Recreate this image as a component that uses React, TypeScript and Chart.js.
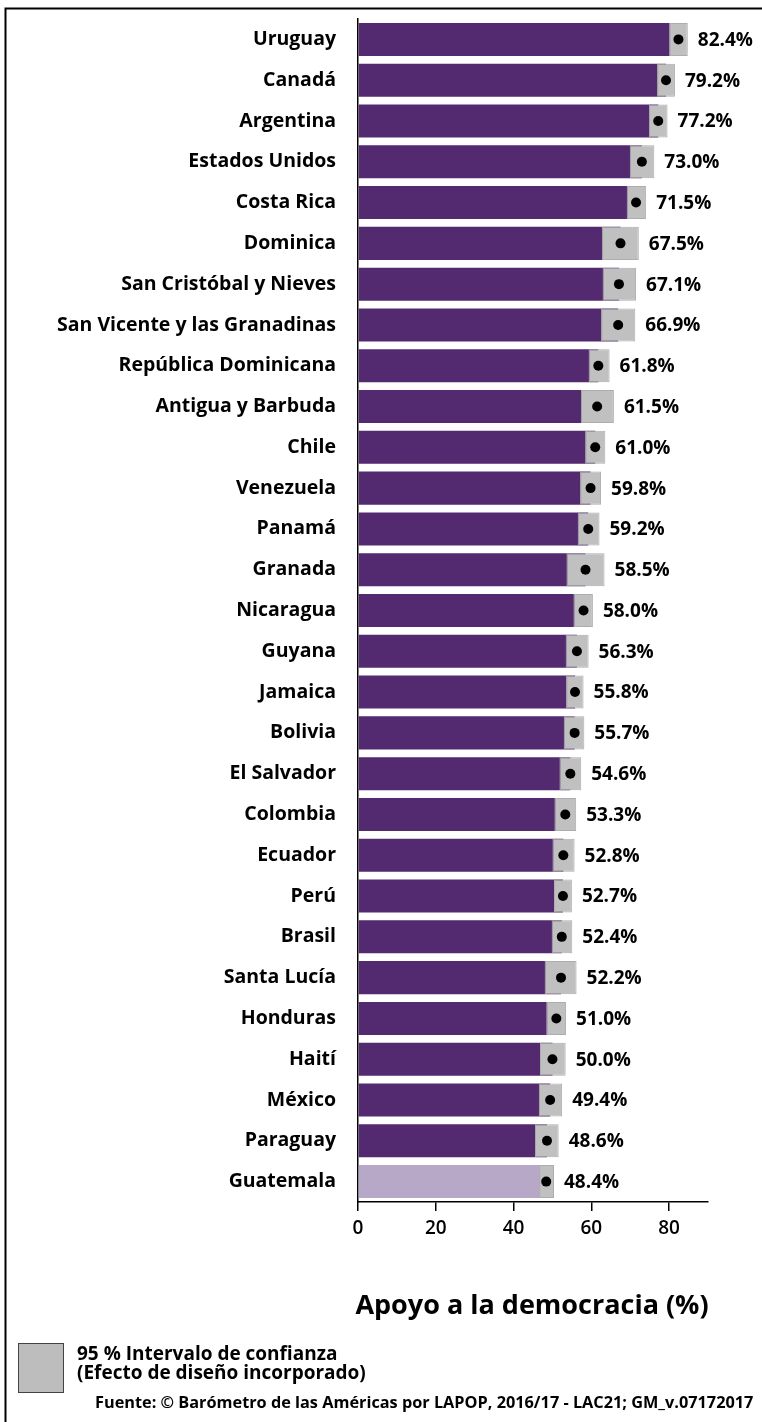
import React, { useEffect, useRef } from 'react';
import { Chart, registerables } from 'chart.js';

Chart.register(...registerables);

const countries = [
  'Uruguay', 'Canadá', 'Argentina', 'Estados Unidos', 'Costa Rica', 'Dominica',
  'San Cristóbal y Nieves', 'San Vicente y las Granadinas', 'República Dominicana',
  'Antigua y Barbuda', 'Chile', 'Venezuela', 'Panamá', 'Granada', 'Nicaragua',
  'Guyana', 'Jamaica', 'Bolivia', 'El Salvador', 'Colombia', 'Ecuador', 'Perú',
  'Brasil', 'Santa Lucía', 'Honduras', 'Haití', 'México', 'Paraguay', 'Guatemala',
];
const means = [
  82.4, 79.2, 77.2, 73.0, 71.5, 67.5, 67.1, 66.9, 61.8, 61.5, 61.0, 59.8, 59.2, 58.5, 58.0,
  56.3, 55.8, 55.7, 54.6, 53.3, 52.8, 52.7, 52.4, 52.2, 51.0, 50.0, 49.4, 48.6, 48.4,
];
const ciLow = [
  80.0, 76.9, 74.8, 69.9, 69.1, 62.7, 62.9, 62.5, 59.3, 57.3, 58.4, 57.1, 56.5, 53.6, 55.4,
  53.4, 53.5, 52.9, 51.8, 50.5, 50.0, 50.4, 49.8, 48.0, 48.4, 46.8, 46.5, 45.5, 46.6,
];
const ciHigh = [
  84.8, 81.5, 79.6, 76.2, 74.1, 72.2, 71.5, 71.3, 64.7, 65.8, 63.6, 62.5, 62.1, 63.4, 60.4,
  59.3, 58.0, 58.2, 57.4, 56.1, 55.7, 55.0, 55.1, 56.2, 53.5, 53.4, 52.5, 51.6, 50.4,
];
const highlighted = ['Guatemala'];
const xTicks = [0, 20, 40, 60, 80];
const xTitle = 'Apoyo a la democracia (%)';
const legendLines = ['95 % Intervalo de confianza', '(Efecto de diseño incorporado)'];
const sourceText = 'Fuente: © Barómetro de las Américas por LAPOP, 2016/17 - LAC21; GM_v.07172017';

const W = 762;
const H = 1422;
const FONT = '"Open Sans", "Noto Sans", "DejaVu Sans", sans-serif';
const PURPLE = '#532a6f';
const LIGHT_PURPLE = '#b8a8c7';
const GREY = '#c0c0c0';

export default function App() {
  const ref = useRef<HTMLCanvasElement>(null);

  useEffect(() => {
    document.body.style.margin = '0';
    const canvas = ref.current!;
    const barColors = countries.map((c) => (highlighted.includes(c) ? LIGHT_PURPLE : PURPLE));

    const decor = {
      id: 'decor',
      beforeDraw(chart: any) {
        const ctx = chart.ctx;
        ctx.save();
        ctx.fillStyle = '#fff';
        ctx.fillRect(0, 0, W, H);
        ctx.restore();
      },
      afterDatasetsDraw(chart: any) {
        const ctx = chart.ctx;
        const xs = chart.scales.x;
        const ys = chart.scales.y;
        ctx.save();
        ctx.fillStyle = '#000';
        ctx.font = `bold 19px ${FONT}`;
        ctx.textAlign = 'left';
        ctx.textBaseline = 'middle';
        means.forEach((m, i) => {
          const x = xs.getPixelForValue(ciHigh[i]) + 10;
          const y = ys.getPixelForValue(i);
          ctx.fillText(m.toFixed(1) + '%', x, y + 1);
        });
        ctx.restore();
      },
      afterDraw(chart: any) {
        const ctx = chart.ctx;
        const area = chart.chartArea;
        ctx.save();
        // frame
        ctx.strokeStyle = '#000';
        ctx.lineWidth = 2;
        ctx.beginPath();
        ctx.moveTo(5.5, H);
        ctx.lineTo(5.5, 8.5);
        ctx.lineTo(W, 8.5);
        ctx.stroke();
        // axis title
        ctx.fillStyle = '#000';
        ctx.font = `bold 27px ${FONT}`;
        ctx.textAlign = 'center';
        ctx.textBaseline = 'middle';
        ctx.fillText(xTitle, (area.left + area.right) / 2 - 1, 1306);
        // legend
        ctx.fillStyle = '#bdbdbd';
        ctx.fillRect(18, 1343, 45, 49);
        ctx.strokeStyle = '#444';
        ctx.lineWidth = 1;
        ctx.strokeRect(18.5, 1343.5, 45, 49);
        ctx.fillStyle = '#000';
        ctx.font = `bold 19px ${FONT}`;
        ctx.textAlign = 'left';
        ctx.fillText(legendLines[0], 77, 1355);
        ctx.fillText(legendLines[1], 77, 1374);
        ctx.font = `bold 16.3px ${FONT}`;
        ctx.fillText(sourceText, 95, 1403);
        ctx.restore();
      },
    };

    const chart = new Chart(canvas, {
      type: 'bar',
      data: {
        labels: countries,
        datasets: [
          {
            type: 'line',
            data: means,
            indexAxis: 'y',
            showLine: false,
            pointRadius: 5,
            pointBackgroundColor: '#000',
            pointBorderWidth: 0,
            order: 0,
          } as any,
          {
            type: 'bar',
            data: ciLow.map((l, i) => [l, ciHigh[i]]),
            backgroundColor: GREY,
            borderColor: '#adadad',
            borderWidth: 1,
            borderSkipped: false,
            grouped: false,
            barPercentage: 0.81,
            categoryPercentage: 1,
            order: 1,
          } as any,
          {
            type: 'bar',
            data: means,
            backgroundColor: barColors,
            borderWidth: 0,
            grouped: false,
            barPercentage: 0.81,
            categoryPercentage: 1,
            order: 2,
          } as any,
        ],
      },
      options: {
        indexAxis: 'y',
        animation: false,
        responsive: false,
        devicePixelRatio: 1,
        layout: { padding: { left: 0, right: 54, top: 19, bottom: 0 } },
        plugins: { legend: { display: false }, tooltip: { enabled: false } },
        scales: {
          x: {
            type: 'linear',
            min: 0,
            max: 90,
            afterBuildTicks: (s: any) => {
              s.ticks = xTicks.map((v) => ({ value: v }));
            },
            afterFit: (s: any) => {
              s.height = 220;
              s.paddingLeft = 0;
              s.paddingRight = 0;
            },
            grid: { display: true, drawOnChartArea: false, drawTicks: true, tickLength: 9, color: '#000', lineWidth: 1.5 },
            border: { display: true, color: '#000', width: 1.5 },
            ticks: { color: '#000', font: { family: FONT, size: 19, weight: '600' }, padding: 6 },
          },
          y: {
            afterFit: (s: any) => {
              s.width = 358;
              s.paddingTop = 0;
              s.paddingBottom = 0;
            },
            grid: { display: false },
            border: { display: true, color: '#000', width: 1.5 },
            ticks: { color: '#000', autoSkip: false, font: { family: FONT, size: 19.5, weight: 'bold' }, padding: 14 },
          },
        },
      } as any,
      plugins: [decor],
    });
    return () => chart.destroy();
  }, []);

  return <canvas ref={ref} width={W} height={H} style={{ display: 'block' }} />;
}
